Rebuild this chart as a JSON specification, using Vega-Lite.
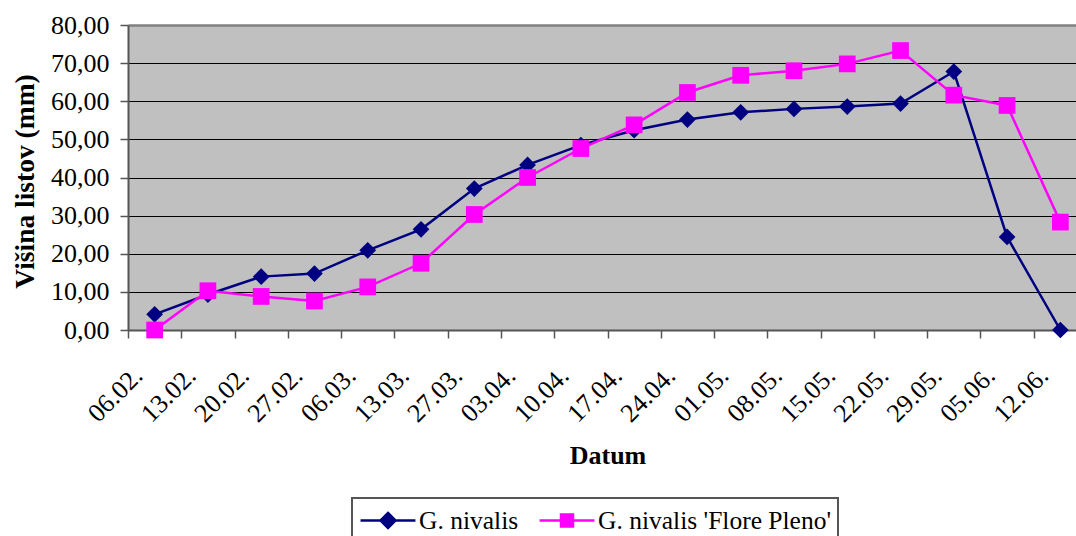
{
  "$schema": "https://vega.github.io/schema/vega-lite/v6.json",
  "width": 948,
  "height": 305,
  "autosize": {"type": "none"},
  "padding": {"left": 128, "top": 25, "right": 0, "bottom": 206},
  "background": "white",
  "config": {
    "font": "Liberation Serif",
    "view": {"fill": "#C0C0C0", "stroke": null}
  },
  "data": {
    "values": [
      {"date": "06.02.", "series": "G. nivalis", "value": 4.1},
      {"date": "13.02.", "series": "G. nivalis", "value": 9.3},
      {"date": "20.02.", "series": "G. nivalis", "value": 14.0},
      {"date": "27.02.", "series": "G. nivalis", "value": 14.8},
      {"date": "06.03.", "series": "G. nivalis", "value": 20.9},
      {"date": "13.03.", "series": "G. nivalis", "value": 26.4},
      {"date": "27.03.", "series": "G. nivalis", "value": 37.1},
      {"date": "03.04.", "series": "G. nivalis", "value": 43.3},
      {"date": "10.04.", "series": "G. nivalis", "value": 48.5},
      {"date": "17.04.", "series": "G. nivalis", "value": 52.4},
      {"date": "24.04.", "series": "G. nivalis", "value": 55.2},
      {"date": "01.05.", "series": "G. nivalis", "value": 57.1},
      {"date": "08.05.", "series": "G. nivalis", "value": 58.0},
      {"date": "15.05.", "series": "G. nivalis", "value": 58.6},
      {"date": "22.05.", "series": "G. nivalis", "value": 59.4},
      {"date": "29.05.", "series": "G. nivalis", "value": 67.8},
      {"date": "05.06.", "series": "G. nivalis", "value": 24.4},
      {"date": "12.06.", "series": "G. nivalis", "value": 0.0},
      {"date": "06.02.", "series": "G. nivalis 'Flore Pleno'", "value": 0.0},
      {"date": "13.02.", "series": "G. nivalis 'Flore Pleno'", "value": 10.3},
      {"date": "20.02.", "series": "G. nivalis 'Flore Pleno'", "value": 8.8},
      {"date": "27.02.", "series": "G. nivalis 'Flore Pleno'", "value": 7.6},
      {"date": "06.03.", "series": "G. nivalis 'Flore Pleno'", "value": 11.3},
      {"date": "13.03.", "series": "G. nivalis 'Flore Pleno'", "value": 17.5},
      {"date": "27.03.", "series": "G. nivalis 'Flore Pleno'", "value": 30.3},
      {"date": "03.04.", "series": "G. nivalis 'Flore Pleno'", "value": 40.0},
      {"date": "10.04.", "series": "G. nivalis 'Flore Pleno'", "value": 47.6},
      {"date": "17.04.", "series": "G. nivalis 'Flore Pleno'", "value": 53.8},
      {"date": "24.04.", "series": "G. nivalis 'Flore Pleno'", "value": 62.3},
      {"date": "01.05.", "series": "G. nivalis 'Flore Pleno'", "value": 66.8},
      {"date": "08.05.", "series": "G. nivalis 'Flore Pleno'", "value": 68.0},
      {"date": "15.05.", "series": "G. nivalis 'Flore Pleno'", "value": 69.8},
      {"date": "22.05.", "series": "G. nivalis 'Flore Pleno'", "value": 73.3},
      {"date": "29.05.", "series": "G. nivalis 'Flore Pleno'", "value": 61.6},
      {"date": "05.06.", "series": "G. nivalis 'Flore Pleno'", "value": 58.9},
      {"date": "12.06.", "series": "G. nivalis 'Flore Pleno'", "value": 28.3}
    ]
  },
  "encoding": {
    "x": {
      "field": "date",
      "type": "nominal",
      "sort": null,
      "scale": {"range": [0, 959], "paddingInner": 0, "paddingOuter": 0},
      "axis": {
        "title": "Datum",
        "titleFontSize": 26,
        "titleFontWeight": "bold",
        "titleColor": "black",
        "titleY": 133,
        "titleBaseline": "alphabetic",
        "labelFontSize": 26,
        "labelColor": "black",
        "labelAngle": -45,
        "labelAlign": "right",
        "labelBaseline": "alphabetic",
        "labelOffset": -11,
        "labelPadding": 39,
        "labelOverlap": false,
        "labelBound": false,
        "labelFlush": false,
        "tickBand": "extent",
        "tickSize": 8,
        "tickColor": "#555555",
        "tickWidth": 1.5,
        "domainColor": "#555555",
        "domainWidth": 2,
        "grid": false
      }
    },
    "y": {
      "field": "value",
      "type": "quantitative",
      "scale": {"domain": [0, 80], "nice": false},
      "axis": {
        "title": "Višina listov (mm)",
        "titleFontSize": 27.5,
        "titleFontWeight": "bold",
        "titleColor": "black",
        "titleX": -95,
        "titleY": 156,
        "titleAngle": -90,
        "titleAlign": "center",
        "titleBaseline": "alphabetic",
        "values": [0, 10, 20, 30, 40, 50, 60, 70, 80],
        "labelExpr": "replace(format(datum.value, '.2f'), '.', ',')",
        "labelFontSize": 26,
        "labelColor": "black",
        "labelPadding": 11,
        "labelBaseline": "middle",
        "tickSize": 8,
        "tickColor": "#555555",
        "tickWidth": 1.5,
        "domainColor": "#555555",
        "domainWidth": 2,
        "grid": true,
        "gridColor": {"condition": {"test": "datum.value === 80", "value": "#808080"}, "value": "#000000"},
        "gridWidth": {"condition": {"test": "datum.value === 80", "value": 2.5}, "value": 1},
        "gridOpacity": 1
      }
    },
    "color": {
      "field": "series",
      "type": "nominal",
      "scale": {"domain": ["G. nivalis", "G. nivalis 'Flore Pleno'"], "range": ["#000080", "#FF00FF"]},
      "legend": {
        "title": null,
        "orient": "none",
        "legendX": 224,
        "legendY": 473,
        "direction": "horizontal",
        "columns": 2,
        "columnPadding": 15,
        "padding": 6,
        "strokeColor": "#555555",
        "labelFontSize": 25.5,
        "labelColor": "black",
        "labelLimit": 400,
        "labelOffset": 14.5,
        "symbolOffset": 13.5,
        "symbolSize": 900,
        "symbolStrokeWidth": 2.5,
        "encode": {
          "legend": {"update": {"strokeWidth": {"value": 2}}},
          "symbols": {
            "update": {
              "shape": {"signal": "datum.value === 'G. nivalis' ? 'M-1.83,0L1.83,0M0,-0.5L0.5,0L0,0.5L-0.5,0Z' : 'M-1.83,0L1.83,0M-0.4,-0.4L0.4,-0.4L0.4,0.4L-0.4,0.4Z'"},
              "fill": {"signal": "datum.value === 'G. nivalis' ? '#000080' : '#FF00FF'"},
              "stroke": {"signal": "datum.value === 'G. nivalis' ? '#000080' : '#FF00FF'"},
              "fillOpacity": {"value": 1},
              "strokeWidth": {"value": 2.5}
            }
          }
        }
      }
    }
  },
  "layer": [
    {
      "mark": {"type": "line", "strokeWidth": 2.5}
    },
    {
      "mark": {"type": "point", "filled": true, "opacity": 1, "size": 280},
      "encoding": {
        "shape": {"condition": {"test": "datum.series === 'G. nivalis'", "value": "diamond"}, "value": "square"}
      }
    }
  ]
}
